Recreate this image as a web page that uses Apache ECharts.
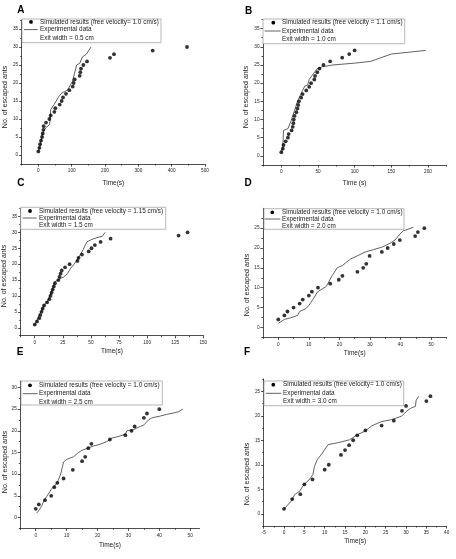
<!DOCTYPE html>
<html><head><meta charset="utf-8">
<script src="https://cdn.jsdelivr.net/npm/echarts@6/dist/echarts.min.js"></script>
<style>html,body{margin:0;padding:0;background:#fff}#c{width:456px;height:559px}</style>
</head><body><div id="c"></div>
<script>
// ---------------- DATA ----------------
// Panel A (exit width 0.5 cm)
const simA_t = [0,3,5,8,11,13,15,16,23,33,37,48,51,64,70,74,83,93,103,106,109,124,126,128,135,146,215,227,343,446];
const simA_n = [1,2,3,4,5,6,7,8,9,10,11,12,13,14,15,16,17,18,19,20,21,22,23,24,25,26,27,28,29,30];
const expA_t = [0,5,15,22,34,37,47,62,70,87,102,115,124.5,131.5,144,158];
const expA_n = [1,2.5,6.6,7.5,8.5,12.6,14,16.3,17.2,18,20.4,25,25.5,27.2,28,30];
// Panel B (exit width 1.0 cm)
const simB_t = [0,2,3,6,9,10,14,15.5,16.4,17,18,20.5,22,23,24,27,29,34,38,40.6,45,46,49,52,57.5,66.6,83,92.6,100];
const simB_n = [1,2,3,4,5,6,7,8,9,10,11,12,13,14,15,16,17,18,19,20,21,22,23,24,25,26,27,28,29];
const expB_t = [0,2,3,9,13,18,22,29,32,36,38,41.5,44,49,56,70,100,122,150,197];
const expB_n = [1,2,7,7.5,9.5,12.5,15,18,19.2,19.5,21,22,22.3,24,24.5,25,25.5,26,28,29];
// Panel C (exit width 1.5 cm)
const simC_t = [0,2,4,5,6,7,8.3,11,13,14,15,16,17,18,21,22,23,24,27,31,38,39,42,48,50.5,53.5,58.6,67.5,128,136];
const simC_n = [1,2,3,4,5,6,7,8,9,10,11,12,13,14,15,16,17,18,19,20,21,22,23,24,25,26,27,28,29,30];
const expC_t = [0,3,4,6,8,11,14,16,18,23,26,29,32,35,37.7,40.5,43,46.4,51,57,60,62.7];
const expC_n = [0.7,3,4.3,5,7,8,10.5,12.5,14.5,15.5,16,17,18.7,20,21.3,23,24.5,27,27.8,28.5,28.7,30];
// Panel D (exit width 2.0 cm)
const simD_t = [0,2,3,5,7,8,10,11,13,17,19.8,21,25.9,27.8,28.8,29.9,33.9,35.8,37.8,39.8,44.8,45.7,47.8];
const simD_n = [2,3,4,5,6,7,8,9,10,11,12,13,14,15,16,18,19,20,21,22,23,24,25];
const expD_t = [0,2,4,6.3,7,9,10,11.5,12.8,14.4,15.7,16.5,17.6,19.3,21,22.3,23.6,25.8,28.5,31.2,33.9,36.6,38.2,39.8,40.9,44.2];
const expD_n = [1,2,2.4,3,4,4.7,5.5,7.2,8.9,9.7,10.3,11.4,13,15,15.6,16.4,17.2,18,19,19.6,20.2,21.2,22,23.5,24.3,25.2];
// Panel E (exit width 2.5 cm)
const simE_t = [0,1,3,5,6,7,9,12,15,16,17,18,24,29,31,32,35,36,40];
const simE_n = [2,3,4,5,7,8,9,11,13,14,16,17,18,19,20,21,23,24,25];
const expE_t = [0.3,1.2,2,2.5,3.6,5.2,6.3,7.3,8.1,9,10,12.2,13.5,14.9,16.5,18.7,20.8,23,24.6,27.3,29,29.5,31.7,33.8,34.9,36.5,37.6,40.3,42.4,45.1,46.2,47.6];
const expE_n = [1,1.8,2.8,3.6,4.9,6.7,7.4,8.6,10.1,12.8,13.4,14,14.8,15.5,15.9,16.5,16.9,17.5,18.3,18.8,19.2,20,20.3,21,21.3,22.5,23,23.4,23.8,24.2,24.4,25];
// Panel F (exit width 3.0 cm)
const simF_t = [0,2,4,5,7,10,11,14,15,16,17,18,20,24,27,29,30,35,36];
const simF_n = [1,3,4,6,7,9,10,12,13,14,15,16,17,18,19,21,22,23,24];
const expF_t = [0,1.8,2.6,3.85,4.9,5.9,6.7,7.1,7.5,8.2,9.2,10.8,13.3,16.1,18.2,19.8,21.5,23.9,26.4,28.9,30.1,31.3,32.3,32.5,33.2];
const expF_n = [1,2.6,3.9,4.6,6,6.7,7.5,8,9.7,11.1,12.1,14.1,14.5,15.1,16.2,16.8,17.9,18.8,19.2,19.9,20.9,21.6,21.9,23.2,24];

// Tick labels
const xTicksA = [0,100,200,300,400,500];
const xTicksB = [0,50,100,150,200];
const xTicksC = [0,25,50,75,100,125,150];
const xTicksD = [0,10,20,30,40,50];
const xTicksE = [0,10,20,30,40,50];
const xTicksF = [-5,0,5,10,15,20,25,30,35,40];
const yTicksABC = [0,5,10,15,20,25,30,35];
const yTicksD = [0,5,10,15,20,25];
const yTicksE = [0,5,10,15,20,25,30];
const yTicksF = [0,5,10,15,20,25];

// Text
const panelLetters = ['A','B','C','D','E','F'];
const simLabels = [
  'Simulated results (free velocity= 1.0 cm/s)',
  'Simulated results (free velocity = 1.1 cm/s)',
  'Simulated results (free velocity = 1.15 cm/s)',
  'Simulated results (free velocity = 1.0 cm/s)',
  'Simulated results (free velocity = 1.0 cm/s)',
  'Simulated results (free velocity= 1.0 cm/s)'
];
const expLabel = 'Experimental data';
const exitLabels = ['Exit width = 0.5 cm','Exit width = 1.0 cm','Exit width = 1.5 cm','Exit width = 2.0 cm','Exit width = 2.5 cm','Exit width = 3.0 cm'];
const xTitles = ['Time(s)','Time (s)','Time(s)','Time(s)','Time(s)','Time(s)'];
const yTitle = 'No. of escaped ants';

// ---------------- LAYOUT ----------------
const FONT = '"Liberation Sans", Arial, sans-serif';
const AX = '#222';
const panels = [
  {sim:[simA_t,simA_n], exp:[expA_t,expA_n], xT:xTicksA, yT:yTicksABC, grid:{left:21.7,top:20,width:183.3,height:144}, xr:[-50,500], yr:[-2.5,37.5], xGap:15.5,
   letter:[20.8,10.5], yTitlePos:[5,97], box:{l:22,t:19,r:161,b:42.7,rows:[21.9,29.6,37.9],mk:31,ln:[24,37.7],tx:40}},
  {sim:[simB_t,simB_n], exp:[expB_t,expB_n], xT:xTicksB, yT:yTicksABC, grid:{left:263,top:19.5,width:183.3,height:145.5}, xr:[-25,225], yr:[-2.5,37.5], xGap:14.5,
   letter:[248.5,11], yTitlePos:[246.3,97], box:{l:263,t:19,r:404.7,b:43.7,rows:[22.7,31,39.3],mk:273.3,ln:[264.7,280.7],tx:282}},
  {sim:[simC_t,simC_n], exp:[expC_t,expC_n], xT:xTicksC, yT:yTicksABC, grid:{left:20.7,top:208.5,width:182.6,height:127.2}, xr:[-12.5,150], yr:[-2.5,37.5], xGap:12.5,
   letter:[20.8,183.7], yTitlePos:[4.5,276], box:{l:20.7,t:207.3,r:165.7,b:229.3,rows:[211,218,225.7],mk:30,ln:[22.7,36.7],tx:39}},
  {sim:[simD_t,simD_n], exp:[expD_t,expD_n], xT:xTicksD, yT:yTicksD, grid:{left:263,top:208.3,width:183.3,height:129}, xr:[-5,55], yr:[-2.5,30], xGap:12,
   letter:[248,183.5], yTitlePos:[247,285], box:{l:264,t:208.7,r:404,b:229.3,rows:[212.3,219,226],mk:272.3,ln:[264.7,280.3],tx:282}},
  {sim:[simE_t,simE_n], exp:[expE_t,expE_n], xT:xTicksE, yT:yTicksE, grid:{left:20.3,top:381,width:179.2,height:147.3}, xr:[-5,53], yr:[-2.5,31.5], xGap:13,
   letter:[20,352], yTitlePos:[5.5,462], box:{l:21,t:381,r:162.3,b:405,rows:[385.3,393.7,402],mk:30,ln:[22.7,37.7],tx:39}},
  {sim:[simF_t,simF_n], exp:[expF_t,expF_n], xT:xTicksF, yT:yTicksF, grid:{left:263.7,top:379,width:183,height:147}, xr:[-5,40], yr:[-2.5,27.5], xGap:11.5,
   letter:[247,352], yTitlePos:[246.7,474], box:{l:264,t:381,r:403.7,b:405.7,rows:[384.7,393.3,401.7],mk:273.3,ln:[265.7,281.3],tx:283}}
];

function minors(ticks, lo, hi){
  const step = ticks[1]-ticks[0], out=[];
  for(let v=ticks[0]-step/2; v<=hi+1e-9; v+=step){ if(v>=lo-1e-9) out.push(+v.toFixed(4)); }
  return out;
}
function pairs(t,n){ return t.map((v,i)=>[v,n[i]]); }

const grids=[], xAxes=[], yAxes=[], series=[], graphics=[];
panels.forEach((p,i)=>{
  grids.push(Object.assign({containLabel:false}, p.grid));
  const lineStyle={color:AX,width:0.8};
  xAxes.push({type:'value', gridIndex:i, min:p.xr[0], max:p.xr[1], position:'bottom',
    axisLine:{show:true,onZero:false,lineStyle},
    axisTick:{show:true,inside:false,length:2.6,customValues:p.xT,lineStyle},
    axisLabel:{show:true,customValues:p.xT,fontSize:4.7,margin:4.5,color:'#222',fontFamily:FONT},
    splitLine:{show:false},
    name:xTitles[i], nameLocation:'middle', nameGap:p.xGap,
    nameTextStyle:{fontSize:6.5,color:'#222',fontFamily:FONT}});
  xAxes.push({type:'value', gridIndex:i, min:p.xr[0], max:p.xr[1], position:'bottom',
    axisLine:{show:false,onZero:false},
    axisTick:{show:true,inside:false,length:1.5,customValues:minors(p.xT,p.xr[0],p.xr[1]),lineStyle},
    axisLabel:{show:false}, splitLine:{show:false}});
  yAxes.push({type:'value', gridIndex:i, min:p.yr[0], max:p.yr[1], position:'left',
    axisLine:{show:true,onZero:false,lineStyle},
    axisTick:{show:true,inside:false,length:2.6,customValues:p.yT,lineStyle},
    axisLabel:{show:true,customValues:p.yT,fontSize:4.7,margin:3.5,color:'#222',fontFamily:FONT},
    splitLine:{show:false}});
  yAxes.push({type:'value', gridIndex:i, min:p.yr[0], max:p.yr[1], position:'left',
    axisLine:{show:false,onZero:false},
    axisTick:{show:true,inside:false,length:1.5,customValues:minors(p.yT,p.yr[0],p.yr[1]),lineStyle},
    axisLabel:{show:false}, splitLine:{show:false}});
  series.push({type:'line', name:expLabel, xAxisIndex:2*i, yAxisIndex:2*i, data:pairs(p.exp[0],p.exp[1]),
    showSymbol:false, symbol:'none', lineStyle:{color:'#3a3a3a',width:0.8}, z:2});
  series.push({type:'scatter', name:simLabels[i], xAxisIndex:2*i, yAxisIndex:2*i, data:pairs(p.sim[0],p.sim[1]),
    symbol:'circle', symbolSize:3.8, itemStyle:{color:'#000'}, z:3});

  graphics.push({type:'text', x:p.letter[0], y:p.letter[1], style:{text:panelLetters[i], font:'bold 10px '+FONT, fill:'#000', align:'center', verticalAlign:'middle'}});
  graphics.push({type:'text', x:p.yTitlePos[0], y:p.yTitlePos[1], rotation:Math.PI/2,
    style:{text:yTitle, font:'7px '+FONT, fill:'#222', align:'center', verticalAlign:'middle'}});
  const b=p.box;
  graphics.push({type:'rect', shape:{x:b.l,y:b.t,width:b.r-b.l,height:b.b-b.t}, style:{fill:'#fff',stroke:'#9a9a9a',lineWidth:0.7}, z:10});
  graphics.push({type:'circle', shape:{cx:b.mk,cy:b.rows[0],r:1.9}, style:{fill:'#000'}, z:11});
  graphics.push({type:'line', shape:{x1:b.ln[0],y1:b.rows[1],x2:b.ln[1],y2:b.rows[1]}, style:{stroke:'#3a3a3a',lineWidth:0.8}, z:11});
  [simLabels[i], expLabel, exitLabels[i]].forEach((t,k)=>{
    graphics.push({type:'text', x:b.tx, y:b.rows[k], style:{text:t, font:'6.4px '+FONT, fill:'#222', align:'left', verticalAlign:'middle'}, z:11});
  });
});

const chart = echarts.init(document.getElementById('c'), null, {renderer:'canvas'});
chart.setOption({
  animation:false,
  backgroundColor:'#fff',
  textStyle:{fontFamily:FONT},
  grid:grids, xAxis:xAxes, yAxis:yAxes, series:series, graphic:graphics
});
</script></body></html>
